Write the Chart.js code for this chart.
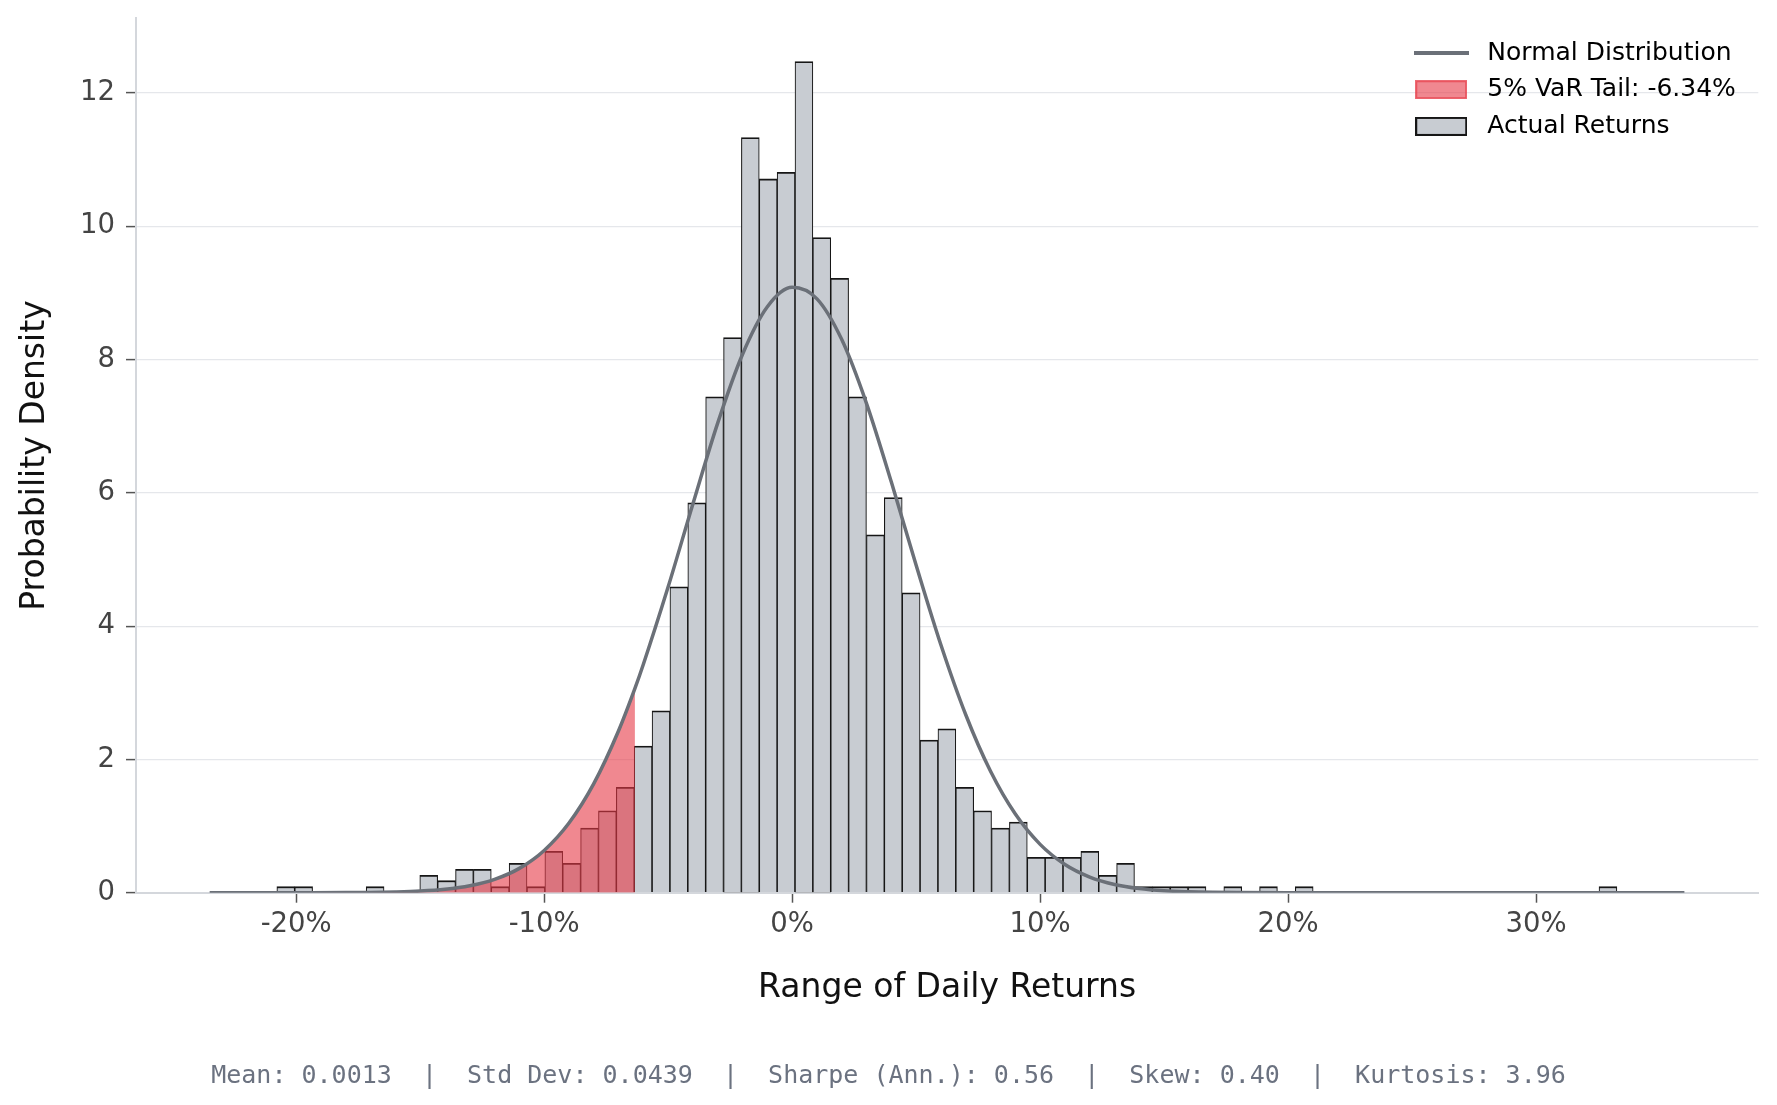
<!DOCTYPE html>
<html>
<head>
<meta charset="utf-8">
<script src="https://cdn.jsdelivr.net/npm/chart.js@4.4.1/dist/chart.umd.min.js"></script>
<style>
html,body{margin:0;padding:0;background:#ffffff;}
#wrap{width:1777px;height:1105px;position:relative;}
</style>
</head>
<body>
<div id="wrap"><canvas id="c"></canvas></div>
<script>
// ---- data ----
const binCenters = [
  -20.420,-19.699,-18.979,-18.258,-17.538,-16.817,-16.097,-15.376,-14.656,-13.935,
  -13.215,-12.494,-11.774,-11.053,-10.333,-9.612,-8.892,-8.171,-7.451,-6.730,
  -6.010,-5.289,-4.569,-3.848,-3.128,-2.407,-1.687,-0.966,-0.246,0.475,
  1.195,1.916,2.636,3.357,4.077,4.798,5.518,6.239,6.959,7.680,
  8.400,9.121,9.841,10.562,11.282,12.003,12.723,13.444,14.164,14.885,
  15.605,16.326,17.046,17.767,18.487,19.208,19.928,20.649,21.369,22.090,
  22.810,23.531,24.251,24.972,25.692,26.413,27.133,27.854,28.574,29.295,
  30.015,30.736,31.456,32.177,32.897
];
const density = [
  0.09,0.09,0,0,0,0.09,0,0,0.26,0.18,
  0.35,0.35,0.09,0.44,0.09,0.62,0.44,0.97,1.23,1.58,
  2.20,2.73,4.59,5.85,7.44,8.33,11.33,10.71,10.81,12.47,
  9.83,9.22,7.44,5.37,5.93,4.50,2.29,2.46,1.58,1.23,
  0.97,1.06,0.53,0.53,0.53,0.62,0.26,0.44,0.09,0.09,
  0.09,0.09,0,0.09,0,0.09,0,0.09,0,0,
  0,0,0,0,0,0,0,0,0,0,
  0,0,0,0,0.09
];
const curveX = [-23.49,-20,-18,-17,-16,-15,-14,-13,-12,-11,-10,-9,-8,-7,-6.34,-6,-5,-4,-3,-2,-1,0,
  1,2,3,4,5,6,7,8,9,10,11,12,13,14,15,16,17,18,20,25,30,35.98];
const curveY = [0,0.0004,0.0018,0.0045,0.011,0.024,0.051,0.104,0.200,0.365,0.634,1.045,1.636,2.430,3.065,3.428,4.590,5.836,7.049,8.079,8.791,9.083,
  8.910,8.299,7.339,6.162,4.913,3.717,2.670,1.822,1.180,0.725,0.423,0.235,0.124,0.062,0.029,0.013,0.0055,0.002,0.0003,0,0,0];
const varCutoff = -6.34;
const xTickValues = [-20,-10,0,10,20,30];
const yTickValues = [0,2,4,6,8,10,12];
const seriesNames = ['Normal Distribution','5% VaR Tail: -6.34%','Actual Returns'];
const xTitle = 'Range of Daily Returns';
const yTitle = 'Probability Density';
const statsText = 'Mean: 0.0013  |  Std Dev: 0.0439  |  Sharpe (Ann.): 0.56  |  Skew: 0.40  |  Kurtosis: 3.96';

// ---- build ----
const curvePts = curveX.map((x,i)=>({x:x,y:curveY[i]}));
const tailPts = curvePts.filter(p=>p.x<=varCutoff);
const barPts = binCenters.map((x,i)=>({x:x,y:density[i]}));

const C_BAR='#c8ccd2', C_EDGE='#161616', C_LINE='#6b7078', C_RED='rgba(230,57,70,0.6)';

function icon(w,h,fn){const c=document.createElement('canvas');c.width=w;c.height=h;fn(c.getContext('2d'),w,h);return c;}
const lineIcon = icon(55,4,(g,w,h)=>{g.fillStyle=C_LINE;g.fillRect(0,0,w,h);});
const varIcon = icon(52,19,(g,w,h)=>{g.fillStyle=C_RED;g.fillRect(1,1,w-2,h-2);g.strokeStyle='rgba(230,57,70,0.75)';g.lineWidth=2;g.strokeRect(1,1,w-2,h-2);});
const barIcon = icon(52,19,(g,w,h)=>{g.fillStyle=C_BAR;g.fillRect(1,1,w-2,h-2);g.strokeStyle=C_EDGE;g.lineWidth=2;g.strokeRect(1,1,w-2,h-2);});

Chart.defaults.font.family = "'DejaVu Sans', sans-serif";

const legendPlace = {
  id:'legendPlace',
  beforeLayout(chart){
    const lg = chart.legend;
    if (lg) lg._layers = () => [{z:5, draw:(area)=>lg.draw(area)}];
  },
  afterLayout(chart){
    const lg = chart.legend;
    if (!lg) return;
    const h = lg.height;
    lg.left = 1395.9; lg.top = 28.8;
    lg.right = 1777; lg.bottom = lg.top + h;
    lg.width = lg.right - lg.left;
  }
};

new Chart(document.getElementById('c'), {
  type:'bar',
  data:{
    datasets:[
      {type:'line', label:seriesNames[0], data:curvePts, borderColor:C_LINE, borderWidth:3.5,
       pointRadius:0, fill:false, cubicInterpolationMode:'monotone', order:0},
      {type:'line', label:seriesNames[1], data:tailPts, borderColor:'rgba(0,0,0,0)', borderWidth:0,
       backgroundColor:C_RED, pointRadius:0, fill:'origin', cubicInterpolationMode:'monotone', order:1},
      {type:'bar', label:seriesNames[2], data:barPts, backgroundColor:C_BAR, borderColor:C_EDGE,
       borderWidth:{top:1.8,left:1.1,right:1.1,bottom:0}, borderSkipped:false,
       barPercentage:1, categoryPercentage:1, grouped:false, order:2}
    ]
  },
  options:{
    responsive:true, maintainAspectRatio:false, animation:false,
    layout:{padding:{left:18.7,right:18.7,top:18.3,bottom:0}},
    plugins:{
      tooltip:{enabled:false},
      legend:{
        position:'chartArea', align:'start',
        labels:{
          usePointStyle:true, pointStyleWidth:67.2, padding:11.7,
          font:{size:25, family:"'DejaVu Sans', sans-serif"}, color:'#111111',
          generateLabels:()=>[
            {text:seriesNames[0], pointStyle:lineIcon, fillStyle:C_LINE, strokeStyle:C_LINE, lineWidth:0, hidden:false, datasetIndex:0},
            {text:seriesNames[1], pointStyle:varIcon, fillStyle:C_RED, strokeStyle:C_RED, lineWidth:0, hidden:false, datasetIndex:1},
            {text:seriesNames[2], pointStyle:barIcon, fillStyle:C_BAR, strokeStyle:C_EDGE, lineWidth:0, hidden:false, datasetIndex:2}
          ]
        }
      },
      title:{
        display:true, position:'bottom', text:statsText,
        font:{family:"'DejaVu Sans Mono', monospace", size:25, weight:'normal', lineHeight:1.2},
        color:'#6b7280', padding:{top:0,bottom:14}
      }
    },
    scales:{
      x:{
        type:'linear', position:'bottom', min:-26.46, max:38.96, offset:false,
        afterFit:(s)=>{ s.height = 168.3; },
        afterBuildTicks:(s)=>{ s.ticks = xTickValues.map(v=>({value:v})); },
        ticks:{ callback:(v)=>v+'%', font:{size:27.5}, color:'#444444', padding:6, maxRotation:0 },
        grid:{ drawOnChartArea:false, drawTicks:true, tickLength:10, tickColor:'#555555', tickWidth:1.5, offset:false },
        border:{ display:true, color:'#d4d7dc', width:2 },
        title:{ display:true, text:xTitle, font:{size:33, lineHeight:1.2}, color:'#111111', padding:{top:0,bottom:53} }
      },
      y:{
        type:'linear', min:0, max:13.12, z:1,
        afterFit:(s)=>{ s.width = 117.3; s.paddingTop = 0; s.paddingBottom = 0; },
        afterBuildTicks:(s)=>{ s.ticks = yTickValues.map(v=>({value:v})); },
        ticks:{ font:{size:27.5}, color:'#444444', padding:11 },
        grid:{ color:'#e5e7eb', lineWidth:1.2, drawTicks:true, tickLength:10, tickColor:'#555555', tickWidth:1.5 },
        border:{ display:true, color:'#d4d7dc', width:2 },
        title:{ display:true, text:yTitle, font:{size:33, lineHeight:1}, color:'#111111', padding:{top:0,bottom:0} }
      }
    }
  },
  plugins:[legendPlace]
});
</script>
</body>
</html>
